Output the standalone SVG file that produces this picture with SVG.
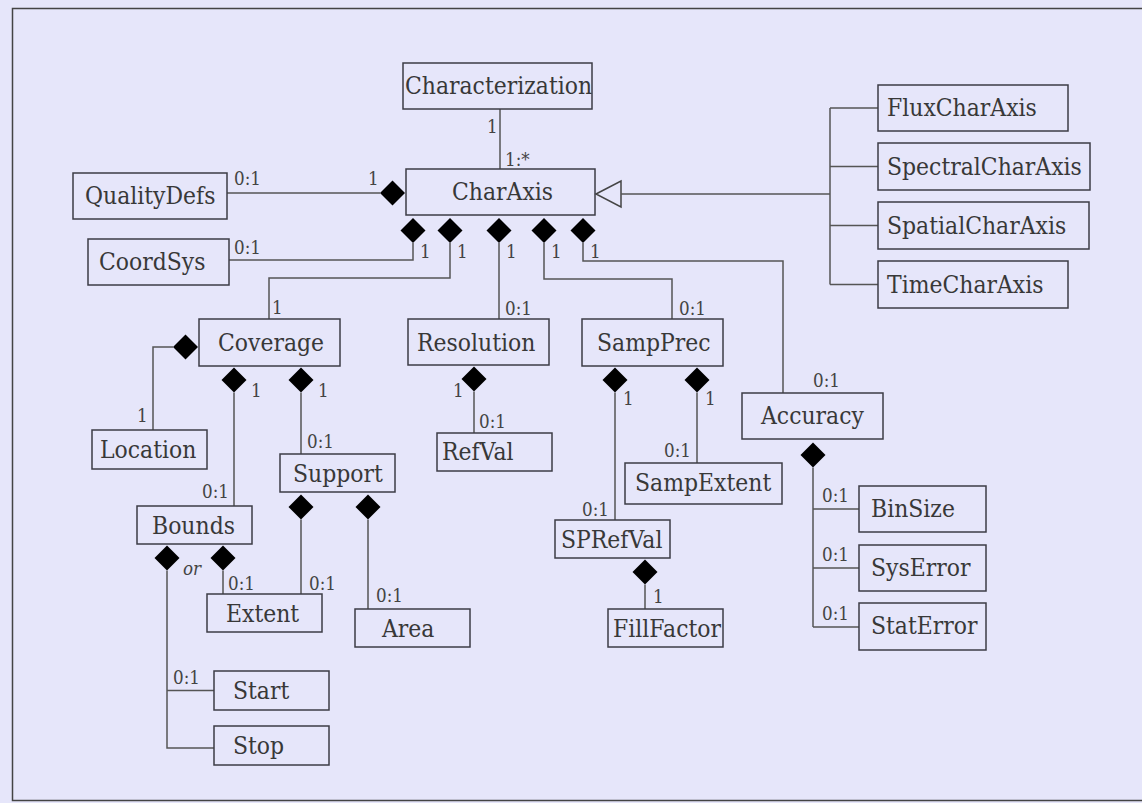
<svg xmlns="http://www.w3.org/2000/svg" width="1142" height="803" viewBox="0 0 1142 803">
<style>
.box{fill:none;stroke:#3c3c46;stroke-width:1.5}
.t{font-family:"DejaVu Serif","Liberation Serif",serif;font-size:23.5px;fill:#383838}
.m{font-family:"DejaVu Serif","Liberation Serif",serif;font-size:18px;fill:#444}
.or{font-family:"DejaVu Serif","Liberation Serif",serif;font-size:18px;font-style:italic;fill:#444}
.c{fill:none;stroke:#555;stroke-width:1.5}
.d{fill:#000}
</style>
<defs>
<polygon id="dv" points="0,-12.5 12.5,0 0,12.5 -12.5,0"/>
</defs>
<rect x="0" y="0" width="1142" height="803" fill="#E6E6FA"/>
<rect x="12.5" y="8.5" width="1140" height="792" fill="none" stroke="#444" stroke-width="1.5"/>

<g id="connectors">
<path class="c" d="M500,109 V169"/>
<text class="m" transform="translate(487 133) scale(.93 1)">1</text>
<text class="m" transform="translate(505 166) scale(.93 1)">1:*</text>
<path class="c" d="M227,193 H380"/>
<use href="#dv" class="d" x="392.5" y="193"/>
<text class="m" transform="translate(234 185) scale(.93 1)">0:1</text>
<text class="m" transform="translate(368 185) scale(.93 1)">1</text>
<polygon points="596,194 621,181 621,207" fill="#E6E6FA" stroke="#444" stroke-width="1.5"/>
<path class="c" d="M621,194 H830 M830,108 V284.5 M830,108 H878 M830,166.5 H878 M830,225.5 H878 M830,284.5 H878"/>
<use href="#dv" class="d" x="413" y="230.5"/>
<use href="#dv" class="d" x="450" y="230.5"/>
<use href="#dv" class="d" x="499" y="230.5"/>
<use href="#dv" class="d" x="544" y="230.5"/>
<use href="#dv" class="d" x="583" y="230.5"/>
<path class="c" d="M413,243 V260 H229"/>
<path class="c" d="M450,243 V278 H269 V319"/>
<path class="c" d="M499,243 V319"/>
<path class="c" d="M544,243 V279 H672 V319"/>
<path class="c" d="M583,243 V261 H783 V393"/>
<text class="m" transform="translate(420 258) scale(.93 1)">1</text>
<text class="m" transform="translate(457 258) scale(.93 1)">1</text>
<text class="m" transform="translate(506 258) scale(.93 1)">1</text>
<text class="m" transform="translate(551 258) scale(.93 1)">1</text>
<text class="m" transform="translate(590 258) scale(.93 1)">1</text>
<text class="m" transform="translate(234 254) scale(.93 1)">0:1</text>
<text class="m" transform="translate(272 314) scale(.93 1)">1</text>
<text class="m" transform="translate(505 315) scale(.93 1)">0:1</text>
<text class="m" transform="translate(679 315) scale(.93 1)">0:1</text>
<text class="m" transform="translate(813 387) scale(.93 1)">0:1</text>
<use href="#dv" class="d" x="185.5" y="347"/>
<path class="c" d="M173,347 H153 V430"/>
<text class="m" transform="translate(137 422) scale(.93 1)">1</text>
<use href="#dv" class="d" x="234" y="380"/>
<use href="#dv" class="d" x="301" y="380"/>
<path class="c" d="M234,392.5 V506"/>
<path class="c" d="M301,392.5 V454"/>
<text class="m" transform="translate(251 397) scale(.93 1)">1</text>
<text class="m" transform="translate(318 397) scale(.93 1)">1</text>
<text class="m" transform="translate(202 498) scale(.93 1)">0:1</text>
<text class="m" transform="translate(307 448) scale(.93 1)">0:1</text>
<use href="#dv" class="d" x="474" y="379"/>
<path class="c" d="M474,391.5 V433"/>
<text class="m" transform="translate(453 397) scale(.93 1)">1</text>
<text class="m" transform="translate(479 428) scale(.93 1)">0:1</text>
<use href="#dv" class="d" x="615" y="380"/>
<use href="#dv" class="d" x="697" y="380"/>
<path class="c" d="M615,392.5 V520"/>
<path class="c" d="M697,392.5 V463"/>
<text class="m" transform="translate(623 405) scale(.93 1)">1</text>
<text class="m" transform="translate(705 405) scale(.93 1)">1</text>
<text class="m" transform="translate(582 516) scale(.93 1)">0:1</text>
<text class="m" transform="translate(664 457) scale(.93 1)">0:1</text>
<use href="#dv" class="d" x="301" y="507"/>
<use href="#dv" class="d" x="368" y="507"/>
<path class="c" d="M301,519.5 V594"/>
<path class="c" d="M368,519.5 V609"/>
<text class="m" transform="translate(309 590) scale(.93 1)">0:1</text>
<text class="m" transform="translate(376 602) scale(.93 1)">0:1</text>
<use href="#dv" class="d" x="167" y="558"/>
<use href="#dv" class="d" x="223" y="558"/>
<path class="c" d="M223,570.5 V594"/>
<path class="c" d="M167,570.5 V748 H214 M167,690.5 H214"/>
<text class="or" transform="translate(183 575) scale(.93 1)">or</text>
<text class="m" transform="translate(228 590) scale(.93 1)">0:1</text>
<text class="m" transform="translate(173 684) scale(.93 1)">0:1</text>
<use href="#dv" class="d" x="645" y="572"/>
<path class="c" d="M645,584.5 V609"/>
<text class="m" transform="translate(653 603) scale(.93 1)">1</text>
<use href="#dv" class="d" x="813" y="455"/>
<path class="c" d="M813,467.5 V627 M813,509 H859 M813,568 H859 M813,627 H859"/>
<text class="m" transform="translate(822 502) scale(.93 1)">0:1</text>
<text class="m" transform="translate(822 561) scale(.93 1)">0:1</text>
<text class="m" transform="translate(822 620) scale(.93 1)">0:1</text>
</g>

<g id="Characterization"><rect class="box" x="403" y="63" width="189" height="46"/><text class="t" transform="translate(405 94) scale(.935 1)">Characterization</text></g>
<g id="CharAxis"><rect class="box" x="406" y="169" width="189" height="46"/><text class="t" transform="translate(452 200) scale(.935 1)">CharAxis</text></g>
<g id="QualityDefs"><rect class="box" x="73" y="173" width="154" height="46"/><text class="t" transform="translate(85 204) scale(.935 1)">QualityDefs</text></g>
<g id="CoordSys"><rect class="box" x="88" y="239" width="141" height="46"/><text class="t" transform="translate(99 270) scale(.935 1)">CoordSys</text></g>
<g id="FluxCharAxis"><rect class="box" x="878" y="85" width="190" height="46"/><text class="t" transform="translate(887 116) scale(.935 1)">FluxCharAxis</text></g>
<g id="SpectralCharAxis"><rect class="box" x="878" y="143" width="212" height="47"/><text class="t" transform="translate(887 175) scale(.935 1)">SpectralCharAxis</text></g>
<g id="SpatialCharAxis"><rect class="box" x="878" y="202" width="211" height="47"/><text class="t" transform="translate(887 234) scale(.935 1)">SpatialCharAxis</text></g>
<g id="TimeCharAxis"><rect class="box" x="878" y="261" width="190" height="47"/><text class="t" transform="translate(887 293) scale(.935 1)">TimeCharAxis</text></g>
<g id="Coverage"><rect class="box" x="199" y="319" width="141" height="47"/><text class="t" transform="translate(218 351) scale(.935 1)">Coverage</text></g>
<g id="Resolution"><rect class="box" x="408" y="319" width="141" height="46"/><text class="t" transform="translate(417 351) scale(.935 1)">Resolution</text></g>
<g id="SampPrec"><rect class="box" x="582" y="319" width="141" height="47"/><text class="t" transform="translate(597 351) scale(.935 1)">SampPrec</text></g>
<g id="Location"><rect class="box" x="92" y="430" width="115" height="39"/><text class="t" transform="translate(100 458) scale(.935 1)">Location</text></g>
<g id="RefVal"><rect class="box" x="437" y="433" width="115" height="38"/><text class="t" transform="translate(442 460) scale(.935 1)">RefVal</text></g>
<g id="Accuracy"><rect class="box" x="742" y="393" width="141" height="46"/><text class="t" transform="translate(761 424) scale(.935 1)">Accuracy</text></g>
<g id="Support"><rect class="box" x="280" y="454" width="115" height="38"/><text class="t" transform="translate(293 482) scale(.935 1)">Support</text></g>
<g id="SampExtent"><rect class="box" x="625" y="463" width="157" height="41"/><text class="t" transform="translate(635 491) scale(.935 1)">SampExtent</text></g>
<g id="Bounds"><rect class="box" x="137" y="506" width="115" height="38"/><text class="t" transform="translate(152 534) scale(.935 1)">Bounds</text></g>
<g id="SPRefVal"><rect class="box" x="555" y="520" width="115" height="38"/><text class="t" transform="translate(561 548) scale(.935 1)">SPRefVal</text></g>
<g id="BinSize"><rect class="box" x="859" y="486" width="127" height="46"/><text class="t" transform="translate(871 517) scale(.935 1)">BinSize</text></g>
<g id="SysError"><rect class="box" x="859" y="545" width="127" height="46"/><text class="t" transform="translate(871 576) scale(.935 1)">SysError</text></g>
<g id="StatError"><rect class="box" x="859" y="603" width="127" height="47"/><text class="t" transform="translate(871 634) scale(.935 1)">StatError</text></g>
<g id="Extent"><rect class="box" x="207" y="594" width="115" height="38"/><text class="t" transform="translate(226 622) scale(.935 1)">Extent</text></g>
<g id="Area"><rect class="box" x="355" y="609" width="115" height="38"/><text class="t" transform="translate(382 637) scale(.935 1)">Area</text></g>
<g id="FillFactor"><rect class="box" x="608" y="609" width="115" height="38"/><text class="t" transform="translate(613 637) scale(.935 1)">FillFactor</text></g>
<g id="Start"><rect class="box" x="214" y="671" width="115" height="39"/><text class="t" transform="translate(233 699) scale(.935 1)">Start</text></g>
<g id="Stop"><rect class="box" x="214" y="726" width="115" height="39"/><text class="t" transform="translate(233 754) scale(.935 1)">Stop</text></g>
</svg>
